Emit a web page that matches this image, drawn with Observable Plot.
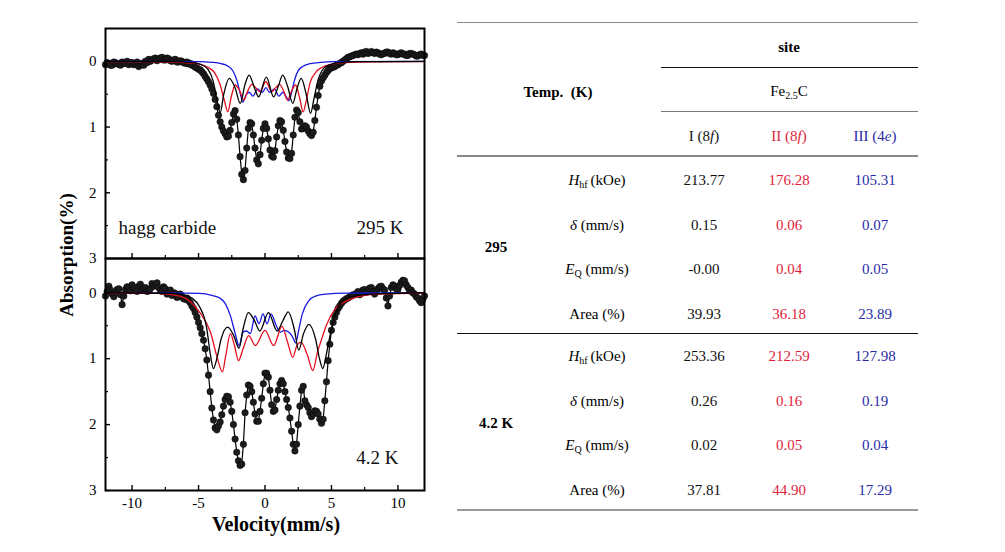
<!DOCTYPE html>
<html>
<head>
<meta charset="utf-8">
<script src="https://cdn.jsdelivr.net/npm/d3@7"></script>
<script src="https://cdn.jsdelivr.net/npm/@observablehq/plot@0.6"></script>
<style>
html,body{margin:0;padding:0;background:#fff;}
#root{position:relative;width:1005px;height:552px;overflow:hidden;background:#fff;font-family:"Liberation Serif","Times New Roman",serif;color:#000;}
.panel{position:absolute;left:0;}
.panel svg{overflow:visible;}
.t{position:absolute;transform:translate(-50%,-50%);white-space:nowrap;font-family:"Liberation Serif","Times New Roman",serif;font-size:15px;line-height:1;}
.t sub{font-size:10px;line-height:0;vertical-align:-3px;}
.rule{position:absolute;}
.axt{position:absolute;font-family:"Liberation Serif","Times New Roman",serif;font-weight:bold;white-space:nowrap;transform:translate(-50%,-50%);line-height:1;}
</style>
</head>
<body>
<div id="root"></div>
<script>
// ---------- spectra data (velocity in mm/s, absorption in %) ----------
const velocity = [
-12,-11.875,-11.75,-11.625,-11.5,-11.375,-11.25,-11.125,
-11,-10.875,-10.75,-10.625,-10.5,-10.375,-10.25,-10.125,
-10,-9.875,-9.75,-9.625,-9.5,-9.375,-9.25,-9.125,
-9,-8.875,-8.75,-8.625,-8.5,-8.375,-8.25,-8.125,
-8,-7.875,-7.75,-7.625,-7.5,-7.375,-7.25,-7.125,
-7,-6.875,-6.75,-6.625,-6.5,-6.375,-6.25,-6.125,
-6,-5.875,-5.75,-5.625,-5.5,-5.375,-5.25,-5.125,
-5,-4.875,-4.75,-4.625,-4.5,-4.375,-4.25,-4.125,
-4,-3.875,-3.75,-3.625,-3.5,-3.375,-3.25,-3.125,
-3,-2.875,-2.75,-2.625,-2.5,-2.375,-2.25,-2.125,
-2,-1.875,-1.75,-1.625,-1.5,-1.375,-1.25,-1.125,
-1,-0.875,-0.75,-0.625,-0.5,-0.375,-0.25,-0.125,
0,0.125,0.25,0.375,0.5,0.625,0.75,0.875,
1,1.125,1.25,1.375,1.5,1.625,1.75,1.875,
2,2.125,2.25,2.375,2.5,2.625,2.75,2.875,
3,3.125,3.25,3.375,3.5,3.625,3.75,3.875,
4,4.125,4.25,4.375,4.5,4.625,4.75,4.875,
5,5.125,5.25,5.375,5.5,5.625,5.75,5.875,
6,6.125,6.25,6.375,6.5,6.625,6.75,6.875,
7,7.125,7.25,7.375,7.5,7.625,7.75,7.875,
8,8.125,8.25,8.375,8.5,8.625,8.75,8.875,
9,9.125,9.25,9.375,9.5,9.625,9.75,9.875,
10,10.125,10.25,10.375,10.5,10.625,10.75,10.875,
11,11.125,11.25,11.375,11.5,11.625,11.75,11.875,
12];

const abs295 = [
 0.05, 0.02, 0.03, 0.06, 0.06, 0.01, 0.02, 0.04,
 0.04, 0.06, 0.01, 0.03, 0.03, 0.00, 0.05, 0.02,
 0.02, 0.05, 0.04, 0.01, 0.08, 0.05, 0.03, 0.06,
 0.00, 0.02,-0.03, 0.00,-0.02,-0.04,-0.05,-0.01,
-0.03,-0.05,-0.06,-0.02,-0.02,-0.05,-0.04,-0.01,
 0.00,-0.02,-0.03, 0.01, 0.01,-0.01, 0.00, 0.02,
 0.03, 0.01, 0.04, 0.03, 0.06, 0.05, 0.09, 0.10,
 0.12, 0.13, 0.16, 0.19, 0.23, 0.27, 0.31, 0.36,
 0.42, 0.49, 0.58, 0.69, 0.82, 0.92, 1.00, 1.06,
 1.10, 1.15, 1.14, 1.05, 0.93, 0.80, 0.75, 0.88,
 1.12, 1.45, 1.72, 1.80, 1.66, 1.32, 1.02, 0.93,
 0.95, 1.12, 1.32, 1.50, 1.56, 1.42, 1.20, 1.02,
 0.95, 1.02, 1.18, 1.35, 1.44, 1.46, 1.36, 1.15,
 0.98, 0.90, 0.92, 1.05, 1.22, 1.38, 1.47, 1.48,
 1.40, 1.12, 0.85, 0.74, 0.78, 0.92, 1.03, 1.02,
 0.98, 1.00, 1.06, 1.10, 1.13, 1.08, 0.90, 0.70,
 0.52, 0.38, 0.30, 0.25, 0.21, 0.17, 0.14, 0.11,
 0.10, 0.09, 0.08, 0.06, 0.05, 0.03, 0.02, 0.00,
-0.02,-0.04,-0.06,-0.07,-0.08,-0.09,-0.10,-0.11,
-0.10,-0.12,-0.13,-0.11,-0.14,-0.15,-0.12,-0.13,
-0.15,-0.13,-0.12,-0.14,-0.13,-0.11,-0.10,-0.12,
-0.12,-0.14,-0.14,-0.12,-0.11,-0.13,-0.12,-0.10,
-0.10,-0.12,-0.13,-0.11,-0.11,-0.09,-0.09,-0.12,
-0.12,-0.11,-0.10,-0.08,-0.08,-0.10,-0.11,-0.09,
-0.09];

const abs42 = [
 0.05,-0.02,-0.10,-0.04, 0.02, 0.06, 0.00,-0.05,
-0.06, 0.03, 0.18, 0.05,-0.05,-0.09,-0.08,-0.03,
-0.12,-0.08,-0.06,-0.02,-0.10,-0.13,-0.04,-0.07,
-0.08,-0.02,-0.03,-0.06,-0.14,-0.10,-0.12,-0.15,
-0.08,-0.04,-0.02,-0.09,-0.06, 0.02, 0.00,-0.04,
 0.04, 0.00, 0.01, 0.07, 0.06, 0.02, 0.05, 0.09,
 0.10, 0.08, 0.12, 0.15, 0.20, 0.24, 0.30, 0.37,
 0.45, 0.53, 0.62, 0.72, 0.85, 1.02, 1.25, 1.50,
 1.75, 1.93, 2.05, 2.08, 2.02, 1.96, 1.85, 1.72,
 1.62, 1.57, 1.58, 1.66, 1.80, 2.00, 2.22, 2.42,
 2.55, 2.62, 2.60, 2.30, 1.82, 1.55, 1.40, 1.42,
 1.50, 1.66, 1.84, 1.95, 1.95, 1.80, 1.60, 1.38,
 1.22, 1.22, 1.28, 1.48, 1.70, 1.80, 1.78, 1.62,
 1.48, 1.38, 1.33, 1.38, 1.50, 1.62, 1.74, 1.90,
 2.10, 2.30, 2.40, 2.30, 2.00, 1.72, 1.48, 1.42,
 1.64, 1.70, 1.74, 1.82, 1.88, 1.84, 1.79, 1.80,
 1.84, 1.92, 1.98, 1.92, 1.64, 1.35, 1.03, 0.78,
 0.57, 0.45, 0.37, 0.30, 0.24, 0.20, 0.16, 0.13,
 0.11, 0.09, 0.08, 0.06, 0.05, 0.03, 0.03, 0.01,
-0.02, 0.03, 0.00,-0.04,-0.05,-0.01,-0.03,-0.07,
-0.08,-0.02, 0.02,-0.03,-0.06,-0.09,-0.10,-0.06,
-0.04, 0.08, 0.20, 0.05,-0.08,-0.12,-0.10,-0.06,
-0.05,-0.11,-0.16,-0.19,-0.18,-0.12,-0.08,-0.03,
-0.04, 0.00, 0.02, 0.06, 0.08, 0.12, 0.15, 0.10,
 0.05];

// fitted sub-spectra, [velocity, absorption]
const site295I = [[-12,0],[-7,0.005],[-5.5,0.02],[-4.8,0.05],[-4.3,0.12],[-3.9,0.3],[-3.6,0.6],[-3.37,0.78],[-3.1,0.5],[-2.7,0.26],[-2.25,0.4],[-1.86,0.64],[-1.5,0.35],[-1.2,0.21],[-0.8,0.4],[-0.48,0.54],[0.1,0.24],[0.65,0.54],[1.0,0.38],[1.33,0.21],[1.7,0.38],[2.09,0.64],[2.4,0.42],[2.72,0.26],[3.1,0.5],[3.43,0.79],[3.7,0.55],[4.0,0.28],[4.4,0.11],[4.9,0.05],[5.6,0.02],[7,0.005],[12,0]];
const site295II = [[-12,0.005],[-8,0.008],[-6,0.02],[-5,0.04],[-4.3,0.09],[-3.8,0.17],[-3.4,0.34],[-3.05,0.6],[-2.8,0.77],[-2.55,0.55],[-2.24,0.36],[-1.9,0.45],[-1.6,0.59],[-1.3,0.45],[-0.98,0.35],[-0.7,0.4],[-0.39,0.46],[0.06,0.31],[0.51,0.46],[0.8,0.4],[1.1,0.35],[1.4,0.45],[1.7,0.59],[2.0,0.45],[2.3,0.36],[2.6,0.55],[2.87,0.77],[3.1,0.6],[3.4,0.32],[3.8,0.17],[4.3,0.09],[5,0.045],[6,0.02],[8,0.008],[12,0.005]];
const site295III = [[-12,0],[-5,0.005],[-4,0.015],[-3.3,0.035],[-2.8,0.07],[-2.4,0.15],[-2.1,0.3],[-1.85,0.5],[-1.66,0.62],[-1.45,0.52],[-1.2,0.47],[-0.91,0.53],[-0.55,0.42],[-0.2,0.47],[0.07,0.4],[0.34,0.47],[0.7,0.42],[1.05,0.53],[1.35,0.47],[1.55,0.52],[1.79,0.6],[2.0,0.48],[2.2,0.3],[2.5,0.14],[2.9,0.07],[3.4,0.035],[4.2,0.015],[5.2,0.005],[12,0]];

const site42I = [[-12,0],[-7,0.01],[-6.2,0.03],[-5.5,0.08],[-4.9,0.22],[-4.4,0.52],[-4.1,0.95],[-3.88,1.15],[-3.6,0.98],[-3.3,0.7],[-2.8,0.52],[-2.35,0.65],[-1.95,0.84],[-1.65,0.55],[-1.25,0.3],[-0.8,0.42],[-0.39,0.58],[0.26,0.3],[0.91,0.58],[1.35,0.42],[1.75,0.29],[2.2,0.55],[2.54,0.87],[2.9,0.62],[3.3,0.48],[3.8,0.7],[4.1,1.0],[4.35,1.15],[4.6,0.95],[4.82,0.72],[5.3,0.32],[6.0,0.1],[7,0.04],[8.5,0.015],[12,0]];
const site42II = [[-12,0.005],[-8.1,0.01],[-6.4,0.05],[-5.6,0.14],[-4.9,0.3],[-4.1,0.6],[-3.6,0.98],[-3.2,1.2],[-2.95,0.95],[-2.6,0.62],[-2.3,0.8],[-1.99,1.03],[-1.65,0.85],[-1.23,0.65],[-0.73,0.8],[0,0.57],[0.65,0.8],[1.28,0.51],[1.7,0.75],[2.09,0.98],[2.4,0.8],[2.7,0.75],[3.2,0.95],[3.6,1.18],[3.95,0.9],[4.3,0.68],[4.6,0.5],[5.3,0.24],[6.07,0.13],[7,0.06],[8.5,0.02],[12,0.005]];
const site42III = [[-12,0],[-6,0.005],[-4.9,0.01],[-4,0.04],[-3.4,0.08],[-3.0,0.16],[-2.6,0.35],[-2.24,0.62],[-1.95,0.8],[-1.65,0.6],[-1.4,0.58],[-1.1,0.62],[-0.75,0.35],[-0.45,0.47],[-0.15,0.32],[0.15,0.47],[0.45,0.32],[0.85,0.5],[1.15,0.6],[1.45,0.57],[1.8,0.6],[2.05,0.66],[2.31,0.76],[2.55,0.55],[2.81,0.32],[3.3,0.12],[3.8,0.05],[4.6,0.02],[6,0.005],[12,0]];

// axis ticks
const xMajor = [-10, -5, 0, 5, 10];
const xMinor = [-7.5, -2.5, 2.5, 7.5];
const yMajor = [0, 1, 2, 3];
const yMinor = [0.5, 1.5, 2.5];

// ---------- table data ----------
const tempGroups = ["295", "4.2 K"];
const paramLabels = ["<i>H</i><sub>hf</sub>\u2009(kOe)", "<i>\u03b4</i> (mm/s)", "<i>E</i><sub>Q</sub> (mm/s)", "Area (%)"];
const siteHeaders = ["I (8<i>f</i>)", "II (8<i>f</i>)", "III (4<i>e</i>)"];
const values295 = [["213.77","176.28","105.31"],["0.15","0.06","0.07"],["-0.00","0.04","0.05"],["39.93","36.18","23.89"]];
const values42 = [["253.36","212.59","127.98"],["0.26","0.16","0.19"],["0.02","0.05","0.04"],["37.81","44.90","17.29"]];

// ---------- styles ----------
const RED = "#e3101f";
const BLUE = "#1818e0";
const TXT_COLORS = ["#111", "#e01e3c", "#2a2aa8"];
const SERIF = "Liberation Serif, Times New Roman, serif";

const root = document.getElementById("root");

function subLine(site, color) {
  return Plot.line(site, {x: d => d[0], y: d => d[1], stroke: color, strokeWidth: 1.3, curve: "monotone-x"});
}

function panel(abs, sites, o) {
  const pts = velocity.map((v, i) => ({v, a: abs[i]}));
  const marks = [
    Plot.line(pts, {x: "v", y: "a", stroke: "#000", strokeWidth: 1.2}),
    Plot.dot(pts, {x: "v", y: "a", r: 3.3, fill: "#1c1c1c", stroke: "#000", strokeWidth: 0.4}),
    subLine(sites[2], BLUE),
    subLine(sites[1], RED),
    subLine(sites[0], "#000"),
    Plot.axisY({ticks: yMajor, tickSize: -5, tickFormat: () => "", label: null, strokeWidth: 1.4}),
    Plot.axisY({ticks: yMinor, tickSize: -3, tickFormat: () => "", label: null, strokeWidth: 1.2}),
    Plot.axisY({ticks: yMajor, tickSize: 0, tickPadding: 9, tickFormat: d => String(d), label: null, fontSize: 15}),
    Plot.axisX({ticks: xMajor, tickSize: -5, tickFormat: () => "", label: null, strokeWidth: 1.4}),
    Plot.axisX({ticks: xMinor, tickSize: -3, tickFormat: () => "", label: null, strokeWidth: 1.2})
  ];
  if (o.xLabels) marks.push(Plot.axisX({ticks: xMajor, tickSize: 0, tickPadding: 7, tickFormat: d => String(d), label: null, fontSize: 15}));
  marks.push(Plot.frame({stroke: "#000", strokeWidth: 2}));
  for (const t of o.texts) {
    marks.push(Plot.text([t.s], {text: d => d, frameAnchor: t.anchor, dx: t.dx, dy: t.dy, textAnchor: t.ta, lineAnchor: "bottom", fontSize: 19, fill: "#111"}));
  }
  const svg = Plot.plot({
    width: 440, height: o.height,
    marginLeft: 105, marginRight: 16, marginTop: o.mt, marginBottom: o.mb,
    style: {fontFamily: SERIF, fontSize: "15px", color: "#000", background: "transparent", overflow: "visible"},
    x: {domain: [-12, 12]},
    y: {domain: o.ydomain, reverse: true},
    marks
  });
  const div = document.createElement("div");
  div.className = "panel";
  div.style.top = o.top + "px";
  div.appendChild(svg);
  root.appendChild(div);
}

panel(abs295, [site295I, site295II, site295III], {
  top: 0, height: 262, mt: 28, mb: 4, ydomain: [-0.5, 3], xLabels: false,
  texts: [
    {s: "hagg carbide", anchor: "bottom-left", dx: 13, dy: -25, ta: "start"},
    {s: "295 K", anchor: "bottom-right", dx: -21, dy: -25, ta: "end"}
  ]
});
panel(abs42, [site42I, site42II, site42III], {
  top: 254, height: 298, mt: 4, mb: 62, ydomain: [-0.52, 3], xLabels: true,
  texts: [
    {s: "4.2 K", anchor: "bottom-right", dx: -26, dy: -27, ta: "end"}
  ]
});

// axis titles
function axisTitle(s, cx, cy, size, rot) {
  const d = document.createElement("div");
  d.className = "axt";
  d.textContent = s;
  d.style.left = cx + "px";
  d.style.top = cy + "px";
  d.style.fontSize = size + "px";
  if (rot) d.style.transform = "translate(-50%,-50%) rotate(-90deg)";
  root.appendChild(d);
}
axisTitle("Absorption(%)", 66, 255, 19, true);
axisTitle("Velocity(mm/s)", 276, 524, 20, false);

// ---------- table ----------
function txt(html, cx, cy, style) {
  const d = document.createElement("div");
  d.className = "t";
  d.innerHTML = html;
  d.style.left = cx + "px";
  d.style.top = cy + "px";
  Object.assign(d.style, style || {});
  root.appendChild(d);
}
function rule(x1, x2, y, h, color) {
  const d = document.createElement("div");
  d.className = "rule";
  d.style.left = x1 + "px";
  d.style.width = (x2 - x1) + "px";
  d.style.top = (y - h / 2) + "px";
  d.style.height = h + "px";
  d.style.background = color;
  root.appendChild(d);
}
const TL = 457, TR = 918, SUBL = 661;
const colX = [496, 597, 704, 789, 875];
rule(TL, TR, 22.3, 1.5, "#8a8a8a");
rule(SUBL, TR, 67.3, 1.3, "#111");
rule(SUBL, TR, 111, 1, "#7a7a7a");
rule(TL, TR, 155.7, 2.2, "#8a8a8a");
rule(TL, TR, 333.3, 1.3, "#111");
rule(TL, TR, 510.3, 2.2, "#9a9a9a");

txt("site", colX[3], 47, {fontWeight: "bold"});
txt("Temp.&nbsp;&nbsp;(K)", 558, 92, {fontWeight: "bold"});
txt("Fe<sub>2.5</sub>C", colX[3], 91);
siteHeaders.forEach((h, j) => txt(h, colX[2 + j], 136, {color: TXT_COLORS[j]}));

const groupTop = [180, 356];
const rowStep = 44.6;
[values295, values42].forEach((vals, g) => {
  txt(tempGroups[g], colX[0], groupTop[g] + rowStep * 1.5, {fontWeight: "bold"});
  vals.forEach((row, r) => {
    const y = groupTop[g] + rowStep * r;
    txt(paramLabels[r], colX[1], y);
    row.forEach((v, j) => txt(v, colX[2 + j], y, {color: TXT_COLORS[j]}));
  });
});
</script>
</body>
</html>
